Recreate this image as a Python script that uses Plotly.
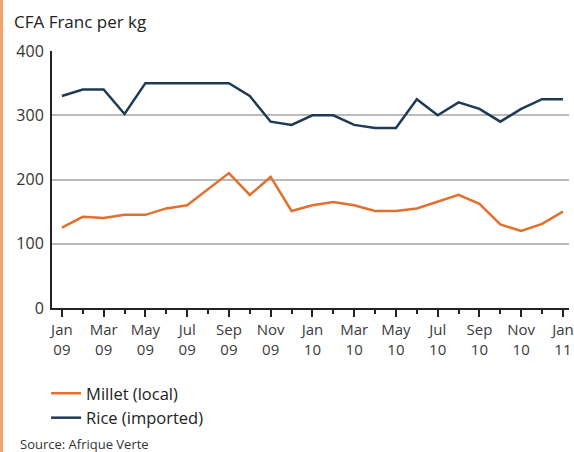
import plotly.graph_objects as go

months = list(range(25))  # Jan 09 .. Jan 11
millet = [125, 142, 140, 145, 145, 155, 160, 185, 210, 176, 204, 151,
          160, 165, 160, 151, 151, 155, 165, 176, 162, 130, 120, 131, 150]
rice = [330, 340, 340, 302, 350, 350, 350, 350, 350, 330, 290, 285,
        300, 300, 285, 280, 280, 325, 300, 320, 310, 290, 310, 325, 325]
tick_vals = list(range(0, 25, 2))
tick_text = ["Jan<br>09", "Mar<br>09", "May<br>09", "Jul<br>09", "Sep<br>09", "Nov<br>09",
             "Jan<br>10", "Mar<br>10", "May<br>10", "Jul<br>10", "Sep<br>10", "Nov<br>10",
             "Jan<br>11"]
minor_vals = list(range(1, 25, 2))

FONT = "Open Sans"
W, H = 574, 452
L, T, B = 52, 51, 144
PW, PH = W - L, H - T - B

fig = go.Figure()
fig.add_trace(go.Scatter(x=months, y=millet, mode="lines", name="Millet (local)",
                         legendgroup="m", line=dict(color="#E2702E", width=2.5)))
fig.add_trace(go.Scatter(x=months, y=rice, mode="lines", name="Rice (imported)",
                         legendgroup="r", line=dict(color="#1E3A55", width=2.5)))

fig.update_layout(
    width=W, height=H,
    margin=dict(l=L, r=0, t=T, b=B),
    paper_bgcolor="white", plot_bgcolor="white",
    font=dict(family=FONT, size=13, color="#333333"),
    showlegend=True,
    legend=dict(x=(46 - L) / PW, y=-(376 - (T + PH)) / PH, xanchor="left", yanchor="top",
                font=dict(family=FONT, size=16.5, color="#222222"),
                bgcolor="rgba(0,0,0,0)", tracegroupgap=0),
    xaxis=dict(range=[-0.474, 24.29], tickmode="array", tickvals=tick_vals,
               ticktext=tick_text, ticks="outside", ticklen=7, tickwidth=1.5,
               tickcolor="#222222", showgrid=False, zeroline=False,
               showline=True, linecolor="#222222", linewidth=2,
               ticklabeloverflow="allow",
               tickfont=dict(family=FONT, size=15, color="#3a3a3a")),
    yaxis=dict(range=[0, 400], tickvals=[0, 100, 200, 300, 400],
               showgrid=True, gridcolor="#BBBBBB", gridwidth=2,
               zeroline=False, showline=True, linecolor="#222222", linewidth=2,
               ticks="", ticklabelstandoff=3,
               tickfont=dict(family=FONT, size=16, color="#333333")),
    annotations=[
        dict(text="CFA Franc per kg", xref="paper", yref="paper", x=(12 - L) / PW,
             y=1.0, yshift=T - 21, xanchor="left", yanchor="middle", showarrow=False,
             font=dict(family=FONT, size=17, color="#222222")),
        dict(text="Source: Afrique Verte", xref="paper", yref="paper", x=(18 - L) / PW,
             y=0, yshift=-(444 - (T + PH)), xanchor="left", yanchor="middle", showarrow=False,
             font=dict(family=FONT, size=13, color="#333333")),
    ],
    shapes=[dict(type="line", xref="paper", yref="paper", x0=(1 - L) / PW, x1=(1 - L) / PW,
                 y0=-B / PH, y1=1 + T / PH, line=dict(color="#F4A06A", width=3))],
)
fig.update_xaxes(minor=dict(tickvals=minor_vals, ticks="outside", ticklen=4,
                            tickwidth=1.5, tickcolor="#222222", showgrid=False))

fig.write_html("out.html", config={"displayModeBar": False},
               post_script="document.body.style.margin='0px';document.body.style.overflow='hidden';")
